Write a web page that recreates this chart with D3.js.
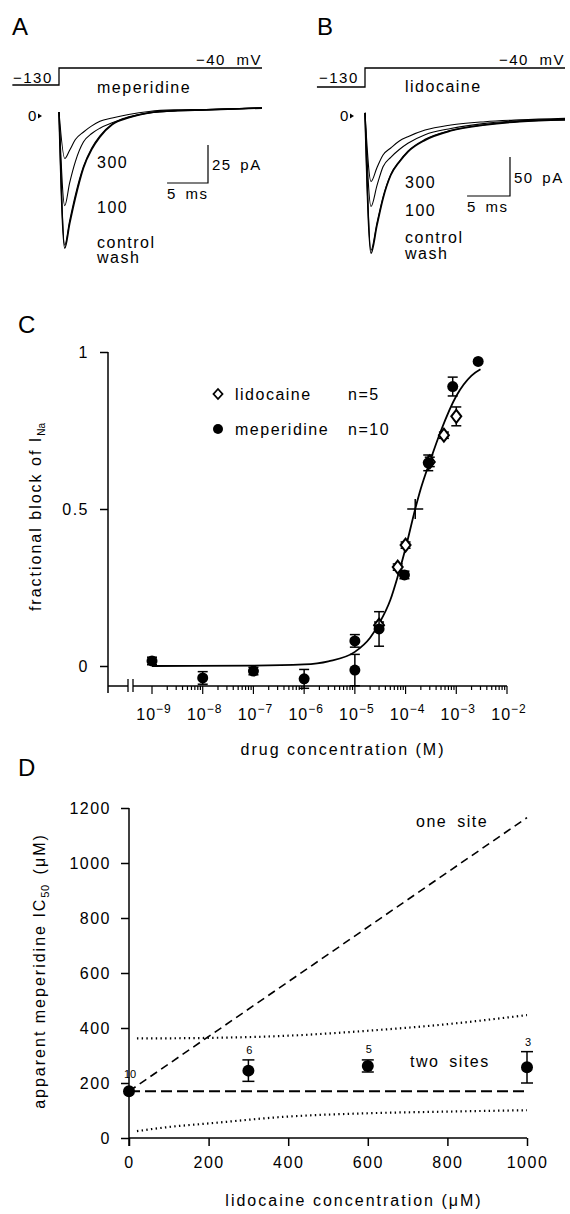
<!DOCTYPE html>
<html>
<head>
<meta charset="utf-8">
<script src="https://cdn.jsdelivr.net/npm/d3@7"></script>
<style>
  body { margin: 0; background: #fff; }
  text { fill: #000; }
</style>
</head>
<body>
<script>
//=== Data ===
const FONT = '"Liberation Sans", Arial, Helvetica, sans-serif'

// voltage protocol (mV)
const stepV = [-130, -130, -40, -40]

// panel A: meperidine, time (ms) and current (pA)
const tA = [0, 0.7, 1.3, 2, 3, 4, 5, 6.5, 8.5, 11, 14, 18, 24.8]
const stepTA = [-5.7, 0, 0, 24.8]
const aControl = [2.6, -87, -71, -54, -34, -22, -13.8, -5.7, -1.2, 2, 3.4, 4, 5.2]
const aWash = [2.6, -85, -69, -52, -33, -21, -13, -5.2, -0.9, 2.2, 3.5, 4.2, 5.3]
const a100 = [2.6, -59, -44, -30, -17, -11.5, -8, -4.5, -0.5, 2, 3.4, 4, 5.3]
const a300 = [2.6, -28, -22.5, -15.5, -10.5, -6.5, -3.5, -1.3, 1, 3, 4, 4.3, 5.3]

// panel B: lidocaine
const tB = [0, 0.7, 1.4, 2.1, 3, 4, 5, 7, 10, 14, 18, 23.3]
const stepTB = [-5.6, 0, 0, 23.3]
const bControl = [4, -176, -140, -106, -76, -59, -46, -31, -19, -11.5, -7.2, -5]
const bWash = [4, -172, -137, -104, -75, -58, -45, -30, -18.5, -11, -7, -4.8]
const b100 = [4, -116, -89, -65, -53, -43, -35, -24, -16, -9.4, -6, -4.3]
const b300 = [4, -84, -66, -50, -41, -32, -26.5, -18, -11.5, -7.3, -5, -3]

// panel C: fractional block vs drug concentration (M)
const meperidineConc = [1e-9, 1e-8, 1e-7, 1e-6, 1e-5, 1e-5, 3e-5, 0.95e-4, 2.8e-4, 0.85e-3, 2.7e-3]
const meperidineBlock = [0.016, -0.038, -0.016, -0.041, 0.08, -0.013, 0.118, 0.29, 0.647, 0.89, 0.97]
const meperidineErr = [0.012, 0.02, 0.012, 0.03, 0.02, 0.05, 0.055, 0.012, 0.025, 0.03, 0]
const lidocaineConc = [3e-5, 7e-5, 1e-4, 3e-4, 5.7e-4, 1e-3]
const lidocaineBlock = [0.13, 0.315, 0.385, 0.65, 0.735, 0.795]
const lidocaineErr = [0.01, 0.01, 0.01, 0.015, 0.01, 0.03]
const fitConc = [1e-9, 1e-7, 1e-6, 3e-6, 1e-5, 2e-5, 3e-5, 5e-5, 7e-5, 1e-4, 1.55e-4, 2e-4, 3e-4, 5e-4, 1e-3, 2e-3, 3e-3]
const fitBlock = [0, 0.001, 0.005, 0.015, 0.045, 0.09, 0.135, 0.21, 0.285, 0.375, 0.5, 0.565, 0.65, 0.75, 0.86, 0.925, 0.945]
const ic50Conc = [1.55e-4]
const ic50Block = [0.5]
const legendNames = ["lidocaine", "meperidine"]
const legendN = ["n=5", "n=10"]

// panel D: apparent meperidine IC50 (uM) vs lidocaine (uM)
const lidoConc = [0, 300, 600, 1000]
const apparentIC50 = [170, 245, 262, 257]
const apparentErr = [0, 39, 22, 57]
const nCells = ["10", "6", "5", "3"]
const oneSiteX = [0, 1000]
const oneSiteY = [170, 1165]
const twoSiteX = [0, 1000]
const twoSiteY = [170, 170]
const upperX = [20, 200, 400, 600, 800, 1000]
const upperY = [362, 364, 372, 390, 414, 447]
const lowerX = [20, 100, 200, 400, 600, 800, 1000]
const lowerY = [25, 40, 53, 78, 90, 96, 101]

//=== Canvas ===
const svg = d3.select("body").append("svg")
    .attr("width", 570)
    .attr("height", 1214)
    .style("font-family", FONT)

svg.append("rect").attr("width", 570).attr("height", 1214).attr("fill", "#fff")

function txt(g, x, y, s, size, anchor) {
    return g.append("text")
        .attr("x", x).attr("y", y)
        .attr("font-size", size)
        .attr("text-anchor", anchor || "start")
        .style("letter-spacing", "1.5px")
        .text(s)
}

//=== Panels A and B: current traces ===
function tracePanel(p) {
    const g = svg.append("g")
    const x = d3.scaleLinear().domain([0, p.t[p.t.length - 1]]).range([p.x0, p.x1])
    const y = d3.scaleLinear().domain([0, -100]).range([116, 116 + 100 * p.pxPerPA])
    const v = d3.scaleLinear().domain([-130, -40]).range([p.vLow, 68])

    // voltage step
    g.append("path")
        .datum(d3.zip(p.stepT, stepV))
        .attr("d", d3.line().x(d => x(d[0])).y(d => v(d[1])))
        .attr("fill", "none").attr("stroke", "black").attr("stroke-width", 1.3)

    // traces (wash drawn on top of control -> thick line)
    p.traces.forEach(tr => {
        g.append("path")
            .datum(d3.zip(p.t, tr.values))
            .attr("d", d3.line().x(d => x(d[0])).y(d => y(d[1])).curve(d3.curveMonotoneX))
            .attr("fill", "none").attr("stroke", "black")
            .attr("stroke-width", tr.w)
            .attr("stroke-linejoin", "round")
    })

    // zero marker
    txt(g, p.zeroX, 121, "0", 15)
    g.append("path")
        .attr("d", `M${p.zeroX + 10},113.5 L${p.zeroX + 14},116 L${p.zeroX + 10},118.5Z`)
        .attr("fill", "black")

    // scale bar
    const cx = p.barX, cy = p.barY
    const bw = x(p.barMs) - x(0)
    const bh = y(-p.barPA) - y(0)
    g.append("path")
        .attr("d", `M${cx - bw},${cy} L${cx},${cy} L${cx},${cy - bh}`)
        .attr("fill", "none").attr("stroke", "black").attr("stroke-width", 1.2)
    txt(g, cx + 4, cy - bh / 2 + 6, p.barPA + " pA", 15).style("word-spacing", "3px")
    txt(g, cx - bw, cy + 16, p.barMs + " ms", 15).style("word-spacing", "3px")

    // labels
    txt(g, p.letterX, 35, p.letter, 24).style("letter-spacing", "0px")
    txt(g, p.x1, 65, "\u221240 mV", 15, "end").style("word-spacing", "5px")
    txt(g, p.x0 - 46, 83, "\u2212130", 15)
    txt(g, p.drugX, p.drugY, p.drug, 16)
    p.labels.forEach(l => txt(g, p.labX, l[1], l[0], 16))
}

tracePanel({
    letter: "A", letterX: 12, t: tA, stepT: stepTA, x0: 59, x1: 262, pxPerPA: 1.52, vLow: 85,
    traces: [{ values: a300, w: 1.1 }, { values: a100, w: 1.1 }, { values: aWash, w: 1.2 }, { values: aControl, w: 1.6 }],
    zeroX: 28, barX: 208, barY: 183, barMs: 5, barPA: 25,
    drug: "meperidine", drugX: 97, drugY: 93, labX: 97,
    labels: [["300", 168], ["100", 213], ["control", 248], ["wash", 263]]
})

tracePanel({
    letter: "B", letterX: 317, t: tB, stepT: stepTB, x0: 365, x1: 565, pxPerPA: 0.78, vLow: 87,
    traces: [{ values: b300, w: 1.1 }, { values: b100, w: 1.1 }, { values: bWash, w: 1.2 }, { values: bControl, w: 1.6 }],
    zeroX: 340, barX: 510, barY: 196, barMs: 5, barPA: 50,
    drug: "lidocaine", drugX: 405, drugY: 92, labX: 405,
    labels: [["300", 188], ["100", 216], ["control", 243], ["wash", 259]]
})

//=== Panel C: dose-response ===
const xC = d3.scaleLog().domain([1e-9, 1e-2]).range([152, 507])
const yC = d3.scaleLinear().domain([0, 1]).range([666, 352])
const gC = svg.append("g")

txt(gC, 18, 333, "C", 24).style("letter-spacing", "0px")

// y axis
const gyC = gC.append("g")
    .attr("transform", "translate(108,0)")
    .call(d3.axisLeft(yC).tickValues([0, 0.5, 1]).tickFormat(d3.format("")).tickSize(8).tickPadding(11))
gyC.select(".domain").remove()
gyC.selectAll("line").attr("stroke-width", 1.5)
gyC.selectAll("text").attr("font-size", 16).attr("font-family", FONT).style("letter-spacing", "1.5px")
gC.append("line").attr("x1", 108).attr("x2", 108).attr("y1", 352).attr("y2", 693)
    .attr("stroke", "black").attr("stroke-width", 1.5)

// x axis with break
const axY = 686
gC.append("line").attr("x1", 108).attr("x2", 128).attr("y1", axY).attr("y2", axY)
    .attr("stroke", "black").attr("stroke-width", 1.5)
gC.append("line").attr("x1", 133).attr("x2", xC(1e-2)).attr("y1", axY).attr("y2", axY)
    .attr("stroke", "black").attr("stroke-width", 1.5)
;[128, 133].forEach(bx => gC.append("line").attr("x1", bx).attr("x2", bx)
    .attr("y1", axY - 7).attr("y2", axY + 6).attr("stroke", "black").attr("stroke-width", 1.3))

const isDecade = d => Math.abs(Math.log10(d) - Math.round(Math.log10(d))) < 1e-6
gC.append("g").selectAll("line")
    .data(xC.ticks())
    .enter()
    .append("line")
    .attr("x1", d => xC(d)).attr("x2", d => xC(d))
    .attr("y1", axY).attr("y2", d => axY + (isDecade(d) ? 8 : 4))
    .attr("stroke", "black").attr("stroke-width", 1.2)

const decLabels = gC.append("g").selectAll("text")
    .data(xC.ticks().filter(isDecade))
    .enter()
    .append("text")
    .attr("x", d => xC(d) + 2)
    .attr("y", 720)
    .attr("font-size", 16)
    .attr("text-anchor", "middle")
    .style("letter-spacing", "1px")
decLabels.append("tspan").text("10")
decLabels.append("tspan").attr("dy", -7).attr("font-size", 12)
    .text(d => "\u2212" + Math.abs(Math.round(Math.log10(d))))

txt(gC, 343, 755, "drug concentration (M)", 16, "middle").style("letter-spacing", "2px")

// y label
const ylC = gC.append("text")
    .attr("transform", "translate(41,517) rotate(-90)")
    .attr("text-anchor", "middle")
    .attr("font-size", 16)
    .style("letter-spacing", "2px")
ylC.append("tspan").text("fractional block of I")
ylC.append("tspan").attr("dy", 4).attr("font-size", 10).style("letter-spacing", "0px").text("Na")

// fit curve
gC.append("path")
    .datum(d3.zip(fitConc, fitBlock))
    .attr("d", d3.line().x(d => xC(d[0])).y(d => yC(d[1])).curve(d3.curveMonotoneX))
    .attr("fill", "none").attr("stroke", "black").attr("stroke-width", 1.8)

// IC50 cross
ic50Conc.forEach((c, i) => {
    gC.append("line").attr("x1", xC(c) - 8).attr("x2", xC(c) + 8)
        .attr("y1", yC(ic50Block[i])).attr("y2", yC(ic50Block[i]))
        .attr("stroke", "black").attr("stroke-width", 1.5)
    gC.append("line").attr("x1", xC(c)).attr("x2", xC(c))
        .attr("y1", yC(ic50Block[i]) - 10).attr("y2", yC(ic50Block[i]) + 10)
        .attr("stroke", "black").attr("stroke-width", 1.5)
})

function errBars(g, xs, ys, es, xsc, ysc, cap) {
    const d = d3.zip(xs, ys, es).filter(r => r[2] > 0)
    const eb = g.append("g").attr("stroke", "black").attr("stroke-width", 1.5)
    d.forEach(r => {
        const px = xsc(r[0])
        eb.append("line").attr("x1", px).attr("x2", px).attr("y1", ysc(r[1] - r[2])).attr("y2", ysc(r[1] + r[2]))
        eb.append("line").attr("x1", px - cap).attr("x2", px + cap).attr("y1", ysc(r[1] - r[2])).attr("y2", ysc(r[1] - r[2]))
        eb.append("line").attr("x1", px - cap).attr("x2", px + cap).attr("y1", ysc(r[1] + r[2])).attr("y2", ysc(r[1] + r[2]))
    })
}

const diamond = "M0,-6.5L5,0L0,6.5L-5,0Z"

errBars(gC, lidocaineConc, lidocaineBlock, lidocaineErr, xC, yC, 5)
gC.append("g").selectAll("path")
    .data(d3.zip(lidocaineConc, lidocaineBlock))
    .enter()
    .append("path")
    .attr("d", diamond)
    .attr("transform", d => "translate(" + xC(d[0]) + "," + yC(d[1]) + ")")
    .attr("fill", "white").attr("stroke", "black").attr("stroke-width", 2)

errBars(gC, meperidineConc, meperidineBlock, meperidineErr, xC, yC, 5)
gC.append("g").selectAll("circle")
    .data(d3.zip(meperidineConc, meperidineBlock))
    .enter()
    .append("circle")
    .attr("cx", d => xC(d[0]))
    .attr("cy", d => yC(d[1]))
    .attr("r", 5.5)
    .attr("fill", "black")

// legend
const legY = [394, 429]
gC.append("path").attr("d", "M0,-5L4.5,0L0,5L-4.5,0Z")
    .attr("transform", "translate(218," + legY[0] + ")")
    .attr("fill", "white").attr("stroke", "black").attr("stroke-width", 1.8)
gC.append("circle").attr("cx", 218).attr("cy", legY[1]).attr("r", 5).attr("fill", "black")
legendNames.forEach((n, i) => {
    txt(gC, 235, legY[i] + 6, n, 16)
    txt(gC, 348, legY[i] + 6, legendN[i], 16)
})

//=== Panel D: apparent IC50 ===
const xD = d3.scaleLinear().domain([0, 1000]).range([129, 527])
const yD = d3.scaleLinear().domain([0, 1200]).range([1138, 808])
const gD = svg.append("g")

txt(gD, 18, 776, "D", 24).style("letter-spacing", "0px")

const gyD = gD.append("g")
    .attr("transform", "translate(129,0)")
    .call(d3.axisLeft(yD).tickValues(d3.range(0, 1201, 200)).tickFormat(d3.format("d")).tickSize(8).tickPadding(10))
const gxD = gD.append("g")
    .attr("transform", "translate(0,1138)")
    .call(d3.axisBottom(xD).tickValues(d3.range(0, 1001, 200)).tickFormat(d3.format("d")).tickSize(8).tickPadding(11))
;[gyD, gxD].forEach(a => {
    a.select(".domain").attr("stroke-width", 1.5)
    a.selectAll("line").attr("stroke-width", 1.5)
    a.selectAll("text").attr("font-size", 16).attr("font-family", FONT).style("letter-spacing", "1.5px")
})
gyD.select(".domain").attr("d", "M0," + yD(1200) + "V" + (yD(0) + 8))
gxD.select(".domain").attr("d", "M" + xD(0) + ",0H" + xD(1000))

txt(gD, 354, 1206, "lidocaine concentration (\u03bcM)", 16, "middle").style("letter-spacing", "2px")

const ylD = gD.append("text")
    .attr("transform", "translate(45,971) rotate(-90)")
    .attr("text-anchor", "middle")
    .attr("font-size", 16)
    .style("letter-spacing", "2px")
ylD.append("tspan").text("apparent meperidine IC")
ylD.append("tspan").attr("dy", 4).attr("font-size", 11).style("letter-spacing", "0.5px").text("50")
ylD.append("tspan").attr("dy", -4).attr("dx", 10).text("(\u03bcM)")

const lineD = d3.line().x(d => xD(d[0])).y(d => yD(d[1]))

gD.append("path").datum(d3.zip(oneSiteX, oneSiteY)).attr("d", lineD)
    .attr("fill", "none").attr("stroke", "black").attr("stroke-width", 1.6).attr("stroke-dasharray", "8,5")
gD.append("path").datum(d3.zip(twoSiteX, twoSiteY)).attr("d", lineD)
    .attr("fill", "none").attr("stroke", "black").attr("stroke-width", 2).attr("stroke-dasharray", "11,5")
;[[upperX, upperY], [lowerX, lowerY]].forEach(l => {
    gD.append("path").datum(d3.zip(l[0], l[1]))
        .attr("d", lineD.curve(d3.curveMonotoneX))
        .attr("fill", "none").attr("stroke", "black").attr("stroke-width", 2.2).attr("stroke-dasharray", "1.4,3.3")
})

txt(gD, 416, 827, "one site", 16).style("word-spacing", "4px")
txt(gD, 410, 1067, "two sites", 16).style("word-spacing", "4px")

errBars(gD, lidoConc, apparentIC50, apparentErr, xD, yD, 6)
gD.append("g").selectAll("circle")
    .data(d3.zip(lidoConc, apparentIC50))
    .enter()
    .append("circle")
    .attr("cx", d => xD(d[0]))
    .attr("cy", d => yD(d[1]))
    .attr("r", 6)
    .attr("fill", "black")

gD.append("g").selectAll("text")
    .data(d3.zip(lidoConc, apparentIC50, apparentErr, nCells))
    .enter()
    .append("text")
    .attr("x", d => xD(d[0]) + 1)
    .attr("y", d => Math.min(yD(d[1] + d[2]), yD(d[1]) - 7) - 6)
    .attr("font-size", 11)
    .attr("text-anchor", "middle")
    .text(d => d[3])
</script>
</body>
</html>
